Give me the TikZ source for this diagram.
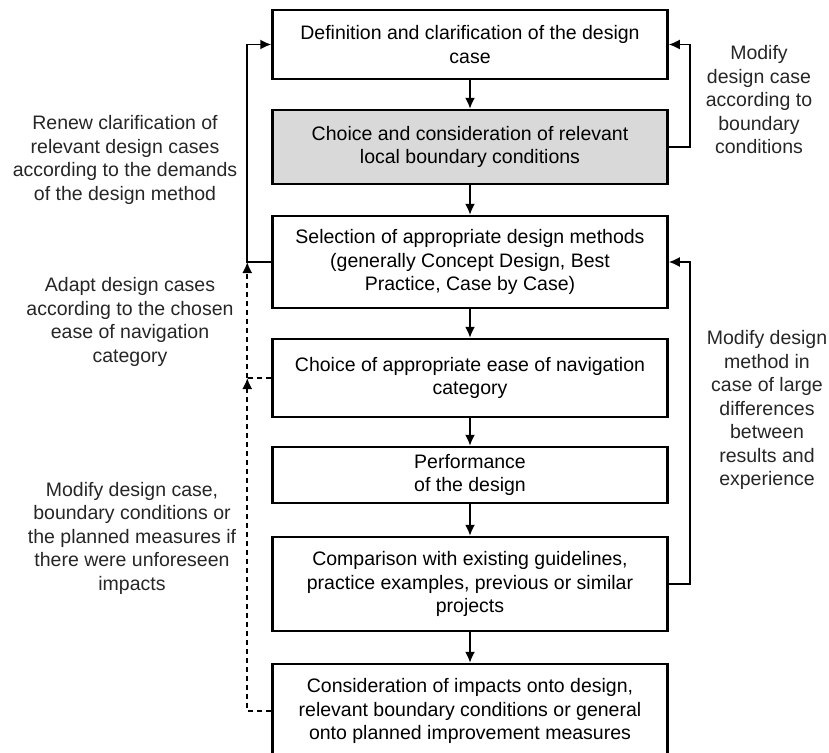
\documentclass[tikz,border=0pt]{standalone}
\usepackage{fontspec}
\setmainfont{Liberation Sans}
\usetikzlibrary{arrows.meta,positioning}

\begin{document}
\begin{tikzpicture}[>={Latex[length=11pt,width=10pt]},node distance=28.5pt,
	stage/.style={draw,line width=2.5pt,minimum width=395pt,align=center,inner sep=2pt,
		font=\fontsize{19.5}{23.5}\selectfont},
	remark/.style={align=center,text=black!85,font=\fontsize{19.5}{23.5}\selectfont},
	flow/.style={->,line width=1.7pt},
	back/.style={flow,dash pattern=on 5pt off 4pt}]

\useasboundingbox (0,0) rectangle (829pt,-752pt);

\node[stage,minimum height=69pt]   (def)  at (470pt,-44.5pt) {Definition and clarification of the design\\case};
 \node[stage,fill=black!15,minimum height=74pt] (bound) [below=of def] {Choice and consideration of relevant\\local boundary conditions};
 \node[stage,minimum height=92pt]  (sel)  [below=29.5pt of bound] {Selection of appropriate design methods\\(generally Concept Design, Best\\Practice, Case by Case)};
	\node[stage,minimum height=78pt]  (nav)  [below=of sel] {Choice of appropriate ease of navigation\\category};
	\node[stage,minimum height=56pt]  (perf) [below=27.5pt of nav] {Performance\\of the design};
	\node[stage,minimum height=94pt]  (cmp)  [below=31.5pt of perf] {Comparison with existing guidelines,\\practice examples, previous or similar\\projects};
	\node[stage,minimum height=94pt]  (imp)  [below=30.5pt of cmp] {Consideration of impacts onto design,\\relevant boundary conditions or general\\onto planned improvement measures};

% junctions of the feedback lines
\coordinate[left=24pt of sel.west] (jsel);
\coordinate[left=24pt of nav.west] (jnav);
\coordinate[left=24pt of imp.west] (jimp);

% remarks
\node[remark] (renew)  at (125pt,-160pt) {Renew clarification of\\relevant design cases\\according to the demands\\of the design method};
\node[remark] (adapt)  at (130pt,-322pt) {Adapt design cases\\according to the chosen\\ease of navigation\\category};
\node[remark] (unfore) at (132pt,-538pt) {Modify design case,\\boundary conditions or\\the planned measures if\\there were unforeseen\\impacts};
\node[remark] (modcase) at (759pt,-100pt) {Modify\\design case\\according to\\boundary\\conditions};
\node[remark] (modmeth) at (767pt,-410pt) {Modify design\\method in\\case of large\\differences\\between\\results and\\experience};

	\path[flow] (def)  edge (bound)
				(bound) edge (sel)
				(sel)  edge (nav)
				(nav)  edge (perf)
				(perf) edge (cmp)
				(cmp)  edge (imp);

	\draw[flow] (sel.west) -- (jsel) |- (def.west);
	\draw[flow] (bound.east) -- ++(21pt,0) |- (def.east);
	\draw[flow] (cmp.east) -- ++(21pt,0) |- (sel.east);
	\draw[back,-] (nav.west) -- (jnav);
	\draw[back] (jnav) -- (jsel);
	\draw[back] (imp.west) -- (jimp) -- (jnav);
\end{tikzpicture}
\end{document}
